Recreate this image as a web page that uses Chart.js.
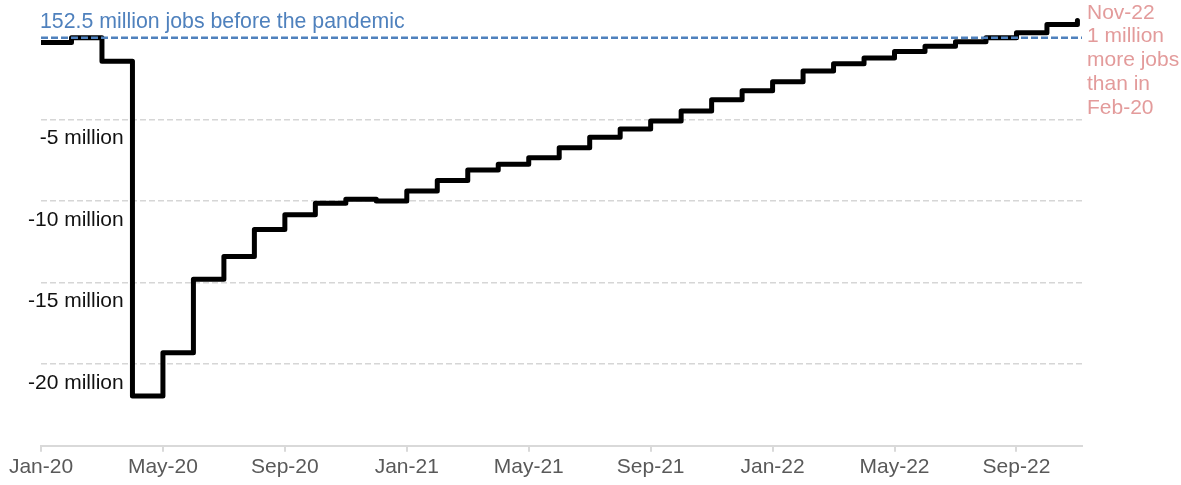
<!DOCTYPE html>
<html lang="en">
<head>
  <meta charset="UTF-8" />
  <title>Jobs compared with February 2020</title>
  <script src="https://cdn.jsdelivr.net/npm/chart.js"></script>
  <style>
    html, body {
      margin: 0;
      padding: 0;
      background: #fff;
    }

    .chart-box {
      width: 1181px;
      height: 485px;
    }
  </style>
</head>
<body>
  <div class="chart-box">
    <canvas id="jobsChart"></canvas>
  </div>

  <script>
    // months from Jan-20 to Nov-22
    const months = [
      'Jan-20', 'Feb-20', 'Mar-20', 'Apr-20', 'May-20', 'Jun-20', 'Jul-20', 'Aug-20', 'Sep-20', 'Oct-20', 'Nov-20', 'Dec-20',
      'Jan-21', 'Feb-21', 'Mar-21', 'Apr-21', 'May-21', 'Jun-21', 'Jul-21', 'Aug-21', 'Sep-21', 'Oct-21', 'Nov-21', 'Dec-21',
      'Jan-22', 'Feb-22', 'Mar-22', 'Apr-22', 'May-22', 'Jun-22', 'Jul-22', 'Aug-22', 'Sep-22', 'Oct-22', 'Nov-22'
    ];

    // jobs compared with Feb-20, in millions
    const jobsDiff = [
      -0.3, 0.0, -1.45, -21.95, -19.3, -14.8, -13.4, -11.75, -10.85, -10.15, -9.9, -10.0,
      -9.4, -8.75, -8.1, -7.75, -7.35, -6.75, -6.1, -5.6, -5.1, -4.5, -3.8, -3.25,
      -2.7, -2.05, -1.6, -1.25, -0.85, -0.53, -0.25, 0.0, 0.3, 0.8, 1.05
    ];

    const preCovidLevel = 0;
    const xTickIndex = [0, 4, 8, 12, 16, 20, 24, 28, 32];
    const yTickValues = [-20, -15, -10, -5];
    const xMax = 34.15;

    const topLabel = '152.5 million jobs before the pandemic';
    const endNote = ['Nov-22', '1 million', 'more jobs', 'than in', 'Feb-20'];

    const FONT = "'Liberation Sans', Arial, sans-serif";
    const BLUE = '#4f81bd';
    const PINK = '#e39b9b';

    const notes = {
      id: 'notes',
      afterDatasetsDraw(chart) {
        const { ctx, chartArea, scales } = chart;
        const y0 = scales.y.getPixelForValue(preCovidLevel);
        ctx.save();
        ctx.textAlign = 'left';
        ctx.textBaseline = 'alphabetic';

        ctx.font = '21.3px ' + FONT;
        ctx.fillStyle = BLUE;
        ctx.fillText(topLabel, chartArea.left - 1, y0 - 10);

        const last = jobsDiff.length - 1;
        const yLast = scales.y.getPixelForValue(jobsDiff[last]);
        ctx.font = '21px ' + FONT;
        ctx.fillStyle = PINK;
        endNote.forEach((line, i) => {
          ctx.fillText(line, chartArea.right + 5, yLast - 2 + i * 23.8);
        });
        ctx.restore();
      }
    };

    new Chart(document.getElementById('jobsChart'), {
      type: 'line',
      data: {
        datasets: [
          {
            label: 'Before the pandemic',
            data: [{ x: 0, y: preCovidLevel }, { x: xMax, y: preCovidLevel }],
            borderColor: BLUE,
            borderWidth: 2.5,
            borderDash: [7, 3],
            pointRadius: 0,
            order: 0
          },
          {
            label: 'Jobs vs Feb-20',
            data: jobsDiff.map((v, i) => ({ x: i, y: v })),
            borderColor: '#000',
            borderWidth: 5,
            borderJoinStyle: 'round',
            borderCapStyle: 'round',
            stepped: true,
            pointRadius: 0,
            order: 1
          }
        ]
      },
      options: {
        responsive: true,
        maintainAspectRatio: false,
        animation: false,
        layout: { padding: { left: 0, right: 99, top: 5, bottom: 2 } },
        plugins: {
          legend: { display: false },
          tooltip: { enabled: false }
        },
        scales: {
          x: {
            type: 'linear',
            min: 0,
            max: xMax,
            afterBuildTicks: s => { s.ticks = xTickIndex.map(v => ({ value: v })); },
            ticks: {
              autoSkip: false,
              maxRotation: 0,
              padding: 3,
              color: '#595959',
              font: { family: FONT, size: 21 },
              callback: v => months[v]
            },
            grid: {
              drawOnChartArea: false,
              drawTicks: true,
              tickLength: 6,
              color: '#d9d9d9',
              lineWidth: 2
            },
            border: { display: true, color: '#d9d9d9', width: 2 }
          },
          y: {
            min: -25,
            max: 2,
            afterBuildTicks: s => { s.ticks = yTickValues.map(v => ({ value: v })); },
            afterFit: s => { s.width = 41; },
            ticks: {
              mirror: true,
              crossAlign: 'far',
              padding: -13,
              labelOffset: 19,
              color: '#111',
              font: { family: FONT, size: 21 },
              callback: v => v + ' million'
            },
            grid: {
              drawTicks: false,
              color: '#d6d6d6',
              lineWidth: 1.5
            },
            border: { display: false, dash: [6, 3] }
          }
        }
      },
      plugins: [notes]
    });
  </script>
</body>
</html>
